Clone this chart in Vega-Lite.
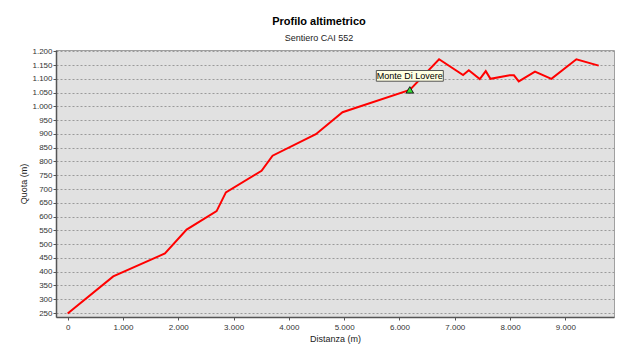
{
  "$schema": "https://vega.github.io/schema/vega-lite/v6.json",
  "autosize": {"type": "none"},
  "width": 558,
  "height": 267,
  "padding": {"left": 56, "top": 50, "right": 26, "bottom": 40},
  "background": "white",
  "title": {
    "text": "Profilo altimetrico",
    "subtitle": "Sentiero CAI 552",
    "anchor": "middle",
    "frame": "bounds",
    "font": "Liberation Sans",
    "fontSize": 11,
    "fontWeight": "bold",
    "color": "#000000",
    "subtitleFont": "Liberation Sans",
    "subtitleFontSize": 9,
    "subtitleColor": "#222222",
    "subtitlePadding": 7,
    "offset": 4,
    "dx": 2
  },
  "datasets": {
    "profile": [
      {"dist": 0, "quota": 248},
      {"dist": 824, "quota": 383},
      {"dist": 1759, "quota": 466},
      {"dist": 2151, "quota": 553},
      {"dist": 2693, "quota": 620},
      {"dist": 2861, "quota": 688},
      {"dist": 3506, "quota": 766},
      {"dist": 3705, "quota": 821},
      {"dist": 4488, "quota": 899},
      {"dist": 4970, "quota": 979},
      {"dist": 6187, "quota": 1060},
      {"dist": 6716, "quota": 1171},
      {"dist": 7150, "quota": 1114},
      {"dist": 7253, "quota": 1131},
      {"dist": 7452, "quota": 1099},
      {"dist": 7560, "quota": 1128},
      {"dist": 7645, "quota": 1100},
      {"dist": 7994, "quota": 1113},
      {"dist": 8070, "quota": 1113},
      {"dist": 8157, "quota": 1091},
      {"dist": 8450, "quota": 1126},
      {"dist": 8747, "quota": 1100},
      {"dist": 9199, "quota": 1171},
      {"dist": 9602, "quota": 1148}
    ],
    "poi": [
      {"dist": 6187, "quota": 1060, "name": "Monte Di Lovere"}
    ]
  },
  "config": {
    "locale": {"number": {"decimal": ",", "thousands": ".", "grouping": [3], "currency": ["", " €"]}},
    "view": {"fill": "#e1e1e1", "stroke": "#a0a0a0", "strokeWidth": 1},
    "axis": {
      "labelFont": "Liberation Sans",
      "labelFontSize": 8,
      "labelColor": "#333333",
      "labelOverlap": false,
      "labelFlush": false,
      "titleFont": "Liberation Sans",
      "titleFontSize": 9,
      "titleFontWeight": "normal",
      "titleColor": "#222222",
      "domainColor": "#555555",
      "domainWidth": 1.5,
      "tickColor": "#555555",
      "tickSize": 3,
      "labelPadding": 1
    }
  },
  "layer": [
    {
      "data": {"name": "profile"},
      "mark": {"type": "line", "color": "#ff0000", "strokeWidth": 2},
      "encoding": {
        "x": {
          "field": "dist", "type": "quantitative",
          "scale": {"domain": [-211, 9879], "nice": false, "zero": false},
          "axis": {"title": "Distanza (m)", "values": [0,1000,2000,3000,4000,5000,6000,7000,8000,9000], "tickCount": 10, "format": ",d", "grid": false, "labelPadding": 3, "titlePadding": 3}
        },
        "y": {
          "field": "quota", "type": "quantitative",
          "scale": {"domain": [235.5, 1204.7], "nice": false, "zero": false},
          "axis": {"title": "Quota (m)", "values": [250,300,350,400,450,500,550,600,650,700,750,800,850,900,950,1000,1050,1100,1150,1200], "tickCount": 20, "format": ",d", "grid": true, "gridColor": "#9a9a9a", "gridDash": [2, 2], "gridWidth": 1, "titlePadding": 3}
        }
      }
    },
    {
      "data": {"name": "poi"},
      "mark": {"type": "point", "shape": "triangle-up", "size": 55, "filled": true, "fill": "#33dd33", "stroke": "#1a1a1a", "strokeWidth": 1, "opacity": 1},
      "encoding": {
        "x": {"field": "dist", "type": "quantitative"},
        "y": {"field": "quota", "type": "quantitative"}
      }
    },
    {
      "data": {"name": "poi"},
      "mark": {"type": "point", "shape": "M-1,-0.16L1,-0.16L1,0.16L-1,0.16Z", "size": 4489, "filled": true, "fill": "#ffffe1", "stroke": "#555555", "strokeWidth": 1, "opacity": 1, "yOffset": -14},
      "encoding": {
        "x": {"field": "dist", "type": "quantitative"},
        "y": {"field": "quota", "type": "quantitative"}
      }
    },
    {
      "data": {"name": "poi"},
      "mark": {"type": "text", "font": "Liberation Sans", "fontSize": 9, "color": "#000000", "align": "center", "baseline": "middle", "yOffset": -14},
      "encoding": {
        "x": {"field": "dist", "type": "quantitative"},
        "y": {"field": "quota", "type": "quantitative"},
        "text": {"field": "name"}
      }
    }
  ]
}
